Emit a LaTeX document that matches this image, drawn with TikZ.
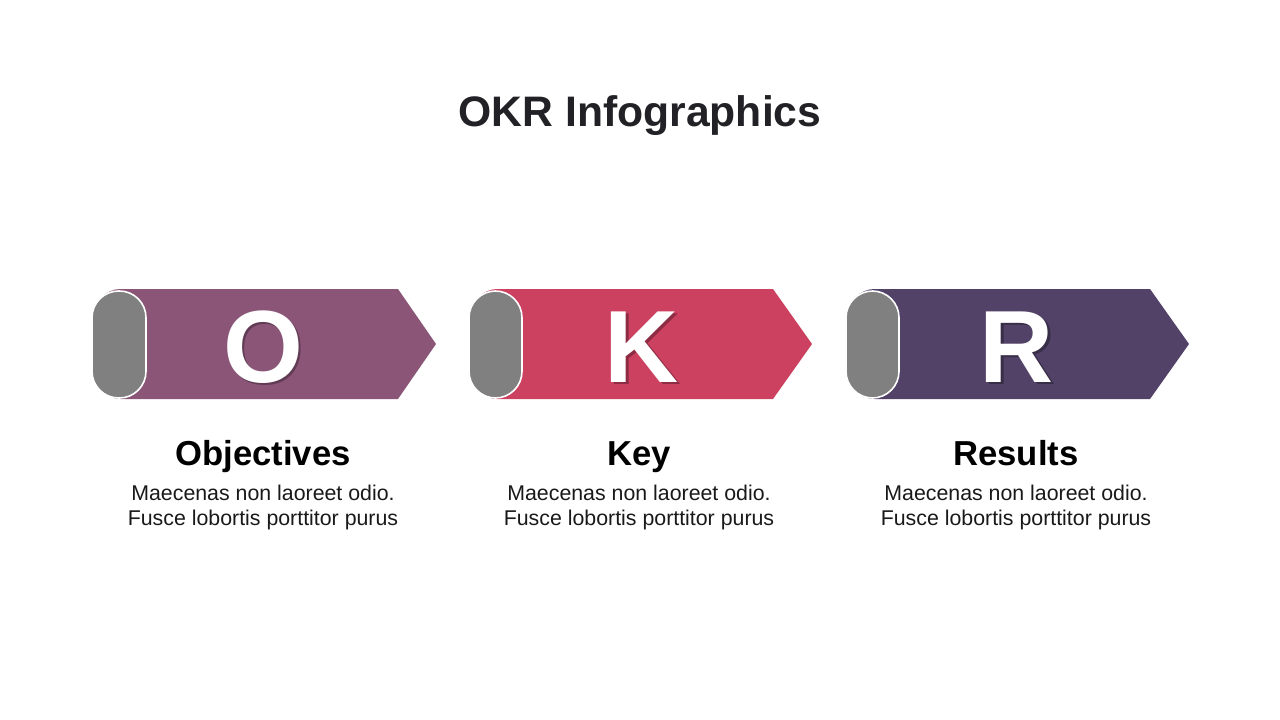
\documentclass[tikz,border=0pt]{standalone}
\usepackage{fontspec}
\setmainfont{Liberation Sans}
\definecolor{okrplum}{HTML}{8A5577}
\definecolor{okrrose}{HTML}{CC4060}
\definecolor{okrgrape}{HTML}{524268}
\definecolor{okrpill}{HTML}{808080}
\definecolor{okrtitle}{HTML}{222226}
\tikzset{
  band/.style={line width=0pt},
  pill/.style={fill=okrpill, draw=white, line width=1.2pt, rounded corners=20pt},
  bigletter/.style={inner sep=0pt, anchor=base, text=white, font=\fontsize{77}{84}\selectfont\bfseries},
  letterShadow/.style={inner sep=0pt, anchor=base, text=black, opacity=0.3, font=\fontsize{77}{84}\selectfont\bfseries},
  heading/.style={inner sep=0pt, anchor=base, font=\fontsize{26}{31}\selectfont\bfseries},
  bodyline/.style={inner sep=0pt, anchor=base, text=black!90, font=\fontsize{16}{19}\selectfont},
}
\begin{document}
\begin{tikzpicture}[x=0.75pt, y=-0.75pt]
            \useasboundingbox [fill=white] (0,0) rectangle (1280,720);

            % Title
            \node [inner sep=0pt, anchor=base, text=okrtitle, font=\fontsize{32}{38}\selectfont\bfseries] (title) at (640,127) {OKR Infographics};

            % Drawing arrow O
            \fill [band, okrplum, rounded corners=20pt] (94,289) -- (94,399) -- (150,399) [sharp corners] -- (398,399) -- (436,344) -- (398,289) -- (150,289) [rounded corners=20pt] -- cycle;
            \draw [pill] (92,291) rectangle (146,398);
            \node [letterShadow] (shadowO) at (265.5,384.5) {O};
            \node [bigletter] (letterO) at (263,382) {O};

            % Drawing arrow K
            \fill [band, okrrose, rounded corners=20pt] (471,289) -- (471,399) -- (527,399) [sharp corners] -- (773,399) -- (812,344) -- (773,289) -- (527,289) [rounded corners=20pt] -- cycle;
            \draw [pill] (469,291) rectangle (522,398);
            \node [letterShadow] (shadowK) at (644.5,384.5) {K};
            \node [bigletter] (letterK) at (642,382) {K};

            % Drawing arrow R
            \fill [band, okrgrape, rounded corners=20pt] (848,289) -- (848,399) -- (904,399) [sharp corners] -- (1150,399) -- (1189,344) -- (1150,289) -- (904,289) [rounded corners=20pt] -- cycle;
            \draw [pill] (846,291) rectangle (899,398);
            \node [letterShadow] (shadowR) at (1019.5,384.5) {R};
            \node [bigletter] (letterR) at (1017,382) {R};

            % Labels under O
            \node [heading] (headO) at (263,465) {Objectives};
            \node [bodyline] (bodyOa) at (263,500) {Maecenas non laoreet odio.};
            \node [bodyline] (bodyOb) at (263,525) {Fusce lobortis porttitor purus};

            % Labels under K
            \node [heading] (headK) at (639,465) {Key};
            \node [bodyline] (bodyKa) at (639,500) {Maecenas non laoreet odio.};
            \node [bodyline] (bodyKb) at (639,525) {Fusce lobortis porttitor purus};

            % Labels under R
            \node [heading] (headR) at (1016,465) {Results};
            \node [bodyline] (bodyRa) at (1016,500) {Maecenas non laoreet odio.};
            \node [bodyline] (bodyRb) at (1016,525) {Fusce lobortis porttitor purus};
\end{tikzpicture}
\end{document}
